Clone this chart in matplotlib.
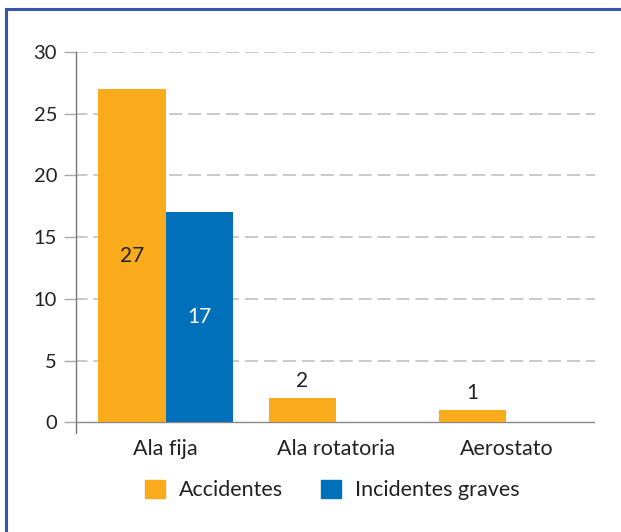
import numpy as np
import matplotlib
matplotlib.use("Agg")
from matplotlib import pyplot as plt
from matplotlib.lines import Line2D
from matplotlib.patches import Patch

# datos
categorias = ["Ala fija", "Ala rotatoria", "Aerostato"]
accidentes = [27, 2, 1]
incidentes = [17, 0, 0]
series = ["Accidentes", "Incidentes graves"]
yticks = [0, 5, 10, 15, 20, 25, 30]

naranja = "#F9AB1C"
azul = "#0070BA"

plt.rcParams['font.family'] = ['Lato', 'DejaVu Sans']

fig = plt.figure(figsize=(6.21, 5.32), dpi=100)
ax = fig.add_axes([76/621, 1-433/532, (595-76)/621, (433-52)/532])

x = np.arange(len(categorias))
w = 0.395
ax.bar(x - w/2, accidentes, w, color=naranja, zorder=3)
ax.bar(x + w/2, incidentes, w, color=azul, zorder=3)

# etiquetas de valores
for i, v in enumerate(accidentes):
    if v > 5:
        ax.text(x[i] - w/2, v/2, str(v), ha="center", va="center", fontsize=15, color="#222222", zorder=4)
    else:
        ax.text(x[i] - w/2, v + 0.85, str(v), ha="center", va="baseline", fontsize=15, color="#222222", zorder=4)
for i, v in enumerate(incidentes):
    if v > 5:
        ax.text(x[i] + w/2, v/2, str(v), ha="center", va="center", fontsize=15, color="white", zorder=4)

ax.set_xlim(-0.527, 2.521)
ax.set_ylim(-0.87, 30)
ax.set_yticks(yticks)
ax.set_xticks(x)
ax.set_xticklabels(categorias, fontsize=15.5, color="#222222")
ax.tick_params(axis="y", length=8.6, width=1, color="#aaaaaa", labelsize=14.5, labelcolor="#222222", pad=5)
ax.tick_params(axis="x", length=0, pad=4)

for y in yticks[1:]:
    ax.axhline(y, color="#bbbbbb", lw=1.1, ls=(1, (8.5, 3.9)), zorder=1)
ax.axhline(0, color="#888888", lw=1, zorder=2)

for s in ["top", "right", "bottom"]:
    ax.spines[s].set_visible(False)
ax.spines["left"].set_color("#777777")
ax.spines["left"].set_linewidth(1)

# leyenda
handles = [Patch(color=naranja), Patch(color=azul)]
fig.legend(handles, series, loc="center", bbox_to_anchor=(332/621, 1-490/532), ncol=2,
           frameon=False, fontsize=15.5, handlelength=0.95, handleheight=0.95,
           handletextpad=0.63, columnspacing=1.76, labelcolor="#222222")

# marco azul
fig.add_artist(Line2D([6/621, 6/621], [0, 1-9/532], color="#3A55B0", lw=2.2))
fig.add_artist(Line2D([6/621, 1], [1-9/532, 1-9/532], color="#3A55B0", lw=2.2))

fig.savefig("out.png", dpi=100)
